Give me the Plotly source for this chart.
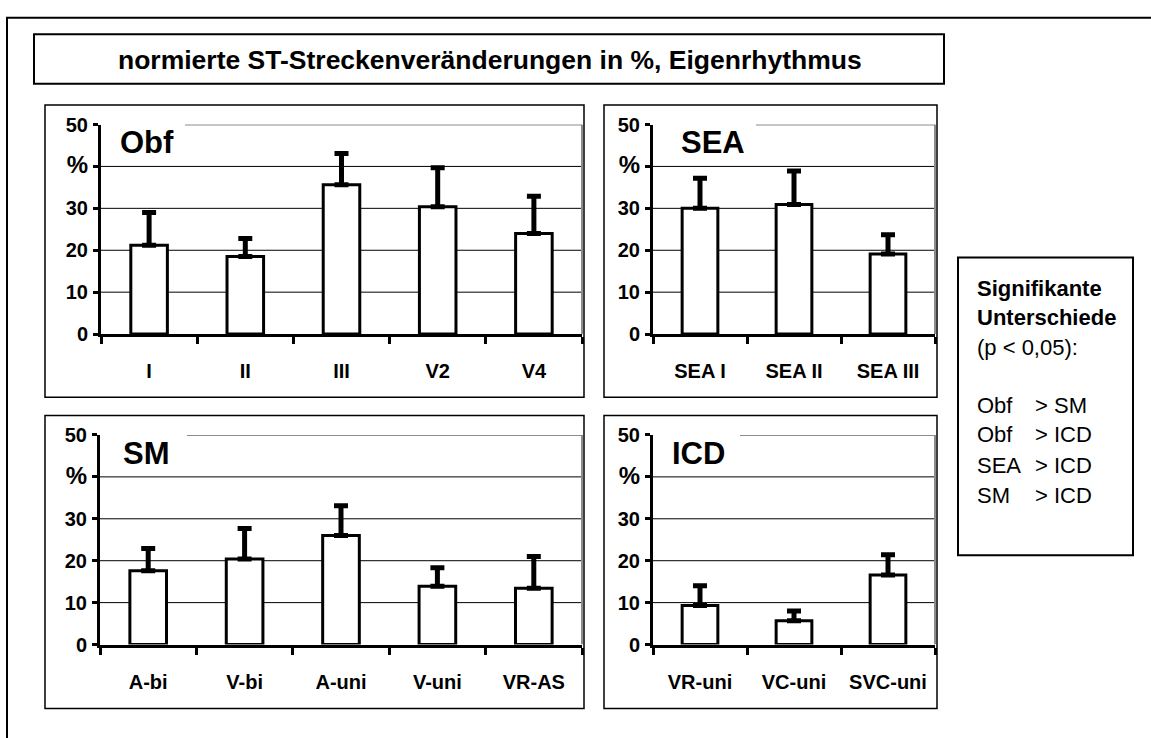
import plotly.graph_objects as go

W, H = 1151, 738
FONT = "Liberation Sans, Arial, sans-serif"

# --- data -----------------------------------------------------------------
obf_labels = ["I", "II", "III", "V2", "V4"]
obf_mean = [21.2, 18.5, 35.6, 30.4, 24.0]
obf_sd = [7.8, 4.3, 7.5, 9.3, 8.9]

sea_labels = ["SEA I", "SEA II", "SEA III"]
sea_mean = [30.0, 30.9, 19.1]
sea_sd = [7.2, 8.0, 4.6]

sm_labels = ["A-bi", "V-bi", "A-uni", "V-uni", "VR-AS"]
sm_mean = [17.6, 20.4, 26.0, 13.9, 13.4]
sm_sd = [5.3, 7.3, 7.1, 4.4, 7.6]

icd_labels = ["VR-uni", "VC-uni", "SVC-uni"]
icd_mean = [9.3, 5.7, 16.6]
icd_sd = [4.7, 2.3, 4.8]

y_tickvals = [0, 10, 20, 30, 40, 50]
y_ticktext = ["0", "10", "20", "30", '<span style="font-size:24px">%</span>', "50"]

title_text = "normierte ST-Streckenveränderungen in %, Eigenrhythmus"
sig_header = ["Signifikante", "Unterschiede"]
sig_note = "(p < 0,05):"
sig_left = ["Obf", "Obf", "SEA", "SM"]
sig_right = ["> SM", "> ICD", "> ICD", "> ICD"]


def fx(p):
    return p / W


def fy(p):
    return 1 - p / H


# panel layout: name, labels, means, sds, plot x-px, plot y-px, box px, label x, grey line start
panels = [
    ("Obf", obf_labels, obf_mean, obf_sd, (101, 582), (117, 333), (45, 97, 584, 398), 118, 185),
    ("SEA", sea_labels, sea_mean, sea_sd, (653, 935), (117, 333), (604, 97, 937, 398), 679, 756),
    ("SM", sm_labels, sm_mean, sm_sd, (100, 582), (437, 653), (45, 417, 584, 719), 121, 187),
    ("ICD", icd_labels, icd_mean, icd_sd, (653, 935), (437, 653), (604, 417, 937, 719), 670, 740),
]

fig = go.Figure()
shapes = []
annotations = []
layout_axes = {}

for i, (name, labels, mean, sd, xr, yr, box, lab_x, grey_x) in enumerate(panels):
    k = "" if i == 0 else str(i + 1)
    xa, ya = "x" + k, "y" + k
    fig.add_trace(go.Bar(
        x=labels, y=mean, width=0.38,
        marker=dict(color="white", line=dict(color="black", width=3)),
        error_y=dict(type="data", symmetric=False, array=sd,
                     arrayminus=[0] * len(sd), color="black",
                     thickness=5, width=7),
        xaxis=xa, yaxis=ya, showlegend=False, hoverinfo="skip",
    ))
    layout_axes["xaxis" + k] = dict(
        domain=[fx(xr[0]), fx(xr[1])], anchor=ya, type="category",
        range=[-0.5, len(labels) - 0.5], showline=True, linecolor="black",
        linewidth=3, ticks="outside", tickson="boundaries", ticklen=7,
        tickwidth=3, tickcolor="black", showgrid=False, zeroline=False,
        tickfont=dict(family=FONT, size=20, color="black", weight="bold"),
        ticklabelstandoff=17, fixedrange=True,
    )
    layout_axes["yaxis" + k] = dict(
        domain=[fy(yr[1]), fy(yr[0])], anchor=xa, range=[0, 50],
        showline=True, linecolor="black", linewidth=3, ticks="outside",
        ticklen=5, tickwidth=3, tickcolor="black", tickvals=y_tickvals,
        ticktext=y_ticktext, showgrid=False, zeroline=False,
        tickfont=dict(family=FONT, size=20, color="black", weight="bold"),
        ticklabelstandoff=1, fixedrange=True,
    )
    # horizontal grid lines behind the bars
    for v in y_tickvals[1:-1]:
        shapes.append(dict(type="line", xref=xa + " domain", yref=ya,
                           x0=0, x1=1, y0=v, y1=v, layer="below",
                           line=dict(color="black", width=1)))
    # grey frame of the plot area (top and right)
    shapes.append(dict(type="line", xref=xa + " domain", yref=ya,
                       x0=(grey_x - xr[0]) / (xr[1] - xr[0]), x1=1, y0=50, y1=50,
                       layer="below", line=dict(color="#8c8c8c", width=2)))
    shapes.append(dict(type="line", xref=xa + " domain", yref=ya,
                       x0=1, x1=1, y0=0, y1=50, layer="below",
                       line=dict(color="#8c8c8c", width=2)))
    # panel frame
    shapes.append(dict(type="rect", xref="paper", yref="paper",
                       x0=fx(box[0]), x1=fx(box[2]), y0=fy(box[3]), y1=fy(box[1]),
                       line=dict(color="black", width=1.5), layer="below"))
    # panel name
    annotations.append(dict(text="<b>%s</b>" % name, xref="paper", yref="paper",
                            x=fx(lab_x), y=fy(yr[0] + 19), xanchor="left",
                            yanchor="middle", showarrow=False,
                            font=dict(family=FONT, size=31, color="black")))

# outer frame
shapes.append(dict(type="rect", xref="paper", yref="paper",
                   x0=fx(7), x1=fx(1170), y0=fy(760), y1=fy(7),
                   line=dict(color="black", width=2), layer="below"))
# title box
shapes.append(dict(type="rect", xref="paper", yref="paper",
                   x0=fx(34), x1=fx(944), y0=fy(75), y1=fy(24),
                   line=dict(color="black", width=2), layer="below"))
annotations.append(dict(text="<b>%s</b>" % title_text, xref="paper", yref="paper",
                        x=fx(490), y=fy(50), xanchor="center", yanchor="middle",
                        showarrow=False,
                        font=dict(family=FONT, size=26.5, color="black")))

# significance box
shapes.append(dict(type="rect", xref="paper", yref="paper",
                   x0=fx(958), x1=fx(1133), y0=fy(561), y1=fy(254),
                   line=dict(color="black", width=2), layer="below"))
for txt, yy in zip(sig_header, [286, 316]):
    annotations.append(dict(text="<b>%s</b>" % txt, xref="paper", yref="paper",
                            x=fx(975), y=fy(yy), xanchor="left", yanchor="middle",
                            showarrow=False, font=dict(family=FONT, size=22, color="black")))
annotations.append(dict(text=sig_note, xref="paper", yref="paper",
                        x=fx(975), y=fy(347), xanchor="left", yanchor="middle",
                        showarrow=False, font=dict(family=FONT, size=22, color="black")))
for a, b, yy in zip(sig_left, sig_right, [407, 437, 468, 499]):
    annotations.append(dict(text=a, xref="paper", yref="paper",
                            x=fx(975), y=fy(yy), xanchor="left", yanchor="middle",
                            showarrow=False, font=dict(family=FONT, size=22, color="black")))
    annotations.append(dict(text=b, xref="paper", yref="paper",
                            x=fx(1033), y=fy(yy), xanchor="left", yanchor="middle",
                            showarrow=False, font=dict(family=FONT, size=22, color="black")))

fig.update_layout(
    width=W, height=H, margin=dict(l=0, r=0, t=0, b=0),
    paper_bgcolor="white", plot_bgcolor="white",
    shapes=shapes, annotations=annotations, bargap=0.6,
    **layout_axes,
)

fig.write_html("out.html", config={"displayModeBar": False})
